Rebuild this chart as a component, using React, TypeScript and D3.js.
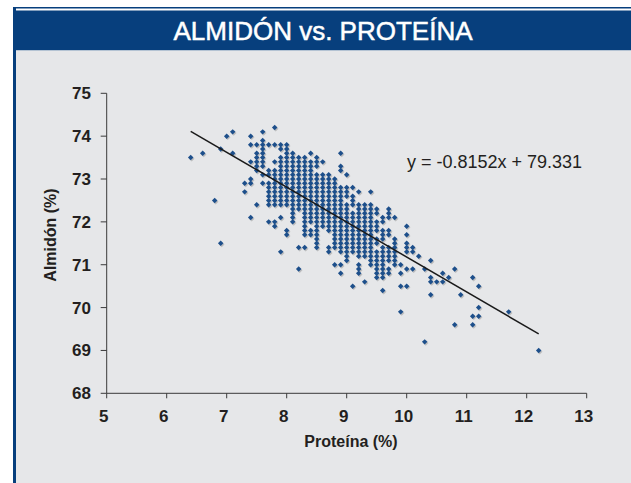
import React from "react";
import * as d3 from "d3";

// ---- data ----
const titleText = "ALMIDÓN vs. PROTEÍNA";
const xLabel = "Proteína (%)";
const yLabel = "Almidón (%)";
const xTicks = [5, 6, 7, 8, 9, 10, 11, 12, 13];
const yTicks = [68, 69, 70, 71, 72, 73, 74, 75];
const slope = -0.8152;
const intercept = 79.331;
const trendRange = [6.4, 12.2];
const equationText = "y = -0.8152x + 79.331";

// each row: almidón value, list of proteína values at that almidón
const rowAlmidon = [
  74.2, 74.1, 74.0, 73.9, 73.8, 73.7, 73.6, 73.5, 73.4, 73.3, 73.2, 73.1, 73.0,
  72.9, 72.8, 72.7, 72.6, 72.5, 72.4, 72.3, 72.2, 72.1, 72.0, 71.9, 71.8, 71.7,
  71.6, 71.5, 71.4, 71.3, 71.2, 71.1, 71.0, 70.9, 70.8, 70.7, 70.6, 70.5, 70.4,
  70.3, 70.0, 69.9, 69.8, 69.6, 69.2, 69.0,
];
const rowProteina = [
  [7.8],
  [7.1, 7.6],
  [7.0, 7.4],
  [7.6],
  [7.4, 7.5, 7.6, 7.7, 7.8, 7.9, 8.0],
  [6.9, 7.6, 7.9, 8.0],
  [6.6, 7.1, 7.5, 7.6, 8.0, 8.1, 8.4, 8.9],
  [6.4, 7.5, 7.6, 7.9, 8.0, 8.1, 8.2, 8.3, 8.5],
  [7.4, 7.5, 7.6, 7.8, 7.9, 8.0, 8.1, 8.2, 8.3, 8.4, 8.5, 8.6],
  [7.5, 7.6, 7.9, 8.0, 8.1, 8.2, 8.3, 8.4, 8.5, 8.9],
  [7.5, 7.7, 7.8, 7.9, 8.0, 8.1, 8.2, 8.3, 8.4, 8.9],
  [7.6, 7.7, 7.8, 7.9, 8.0, 8.1, 8.2, 8.3, 8.4, 8.5, 8.6, 8.7, 9.0],
  [7.4, 7.8, 7.9, 8.0, 8.1, 8.2, 8.3, 8.4, 8.5, 8.6, 8.7, 8.8],
  [7.3, 7.4, 7.6, 7.7, 7.8, 7.9, 8.0, 8.1, 8.2, 8.3, 8.4, 8.5, 8.6, 8.7, 8.8],
  [7.7, 7.8, 7.9, 8.0, 8.1, 8.2, 8.3, 8.4, 8.5, 8.6, 8.7, 8.8, 8.9, 9.0, 9.1],
  [7.3, 7.7, 7.8, 7.9, 8.0, 8.1, 8.2, 8.3, 8.4, 8.5, 8.6, 8.7, 8.8, 8.9, 9.0, 9.2, 9.4],
  [7.7, 7.8, 7.9, 8.0, 8.1, 8.2, 8.3, 8.4, 8.5, 8.6, 8.7, 8.8, 8.9, 9.0, 9.1],
  [6.8, 7.7, 7.8, 7.9, 8.0, 8.1, 8.2, 8.3, 8.4, 8.5, 8.6, 8.7, 8.8, 8.9, 9.1],
  [7.5, 7.7, 7.8, 7.9, 8.0, 8.1, 8.2, 8.3, 8.4, 8.5, 8.6, 8.7, 8.8, 8.9, 9.0, 9.1, 9.2, 9.3, 9.4],
  [8.1, 8.2, 8.3, 8.4, 8.5, 8.6, 8.7, 8.8, 8.9, 9.0, 9.2, 9.3, 9.4, 9.5, 9.7],
  [8.1, 8.3, 8.4, 8.5, 8.6, 8.7, 8.8, 8.9, 9.0, 9.1, 9.2, 9.3, 9.4, 9.5, 9.7],
  [7.4, 7.9, 8.1, 8.3, 8.4, 8.5, 8.6, 8.7, 8.8, 8.9, 9.0, 9.1, 9.2, 9.3, 9.4, 9.6, 9.7, 9.8],
  [7.7, 7.8, 8.1, 8.3, 8.4, 8.5, 8.6, 8.7, 8.8, 8.9, 9.0, 9.1, 9.2, 9.3, 9.4, 9.5, 9.6],
  [7.8, 8.3, 8.5, 8.6, 8.7, 8.8, 8.9, 9.0, 9.1, 9.2, 9.3, 9.4, 9.5, 10.0],
  [8.0, 8.3, 8.4, 8.5, 8.7, 8.8, 8.9, 9.0, 9.1, 9.2, 9.3, 9.4, 9.5, 9.6, 9.7],
  [8.0, 8.3, 8.4, 8.5, 8.8, 8.9, 9.0, 9.1, 9.2, 9.3, 9.4, 9.6, 9.7, 10.0],
  [8.5, 8.8, 8.9, 9.0, 9.1, 9.2, 9.3, 9.4, 9.5, 9.6, 9.8],
  [6.9, 8.5, 8.8, 8.9, 9.0, 9.1, 9.2, 9.3, 9.4, 9.5, 9.8, 10.0],
  [8.2, 8.3, 8.5, 8.7, 8.8, 8.9, 9.0, 9.1, 9.2, 9.3, 9.4, 9.6, 9.7, 9.8, 10.0, 10.1],
  [7.9, 8.7, 8.9, 9.0, 9.1, 9.2, 9.3, 9.4, 9.5, 9.6, 9.7, 9.8, 10.0, 10.1],
  [9.0, 9.2, 9.3, 9.4, 9.5, 9.6, 9.7, 9.8, 10.2],
  [9.0, 9.4, 9.5, 9.6, 9.7, 9.8, 10.4],
  [8.8, 8.9, 9.2, 9.4, 9.5, 9.6, 9.8, 9.9],
  [8.2, 9.2, 9.5, 9.6, 9.7, 10.0, 10.1, 10.3, 10.8],
  [8.9, 9.2, 9.5, 9.6, 9.7, 9.9, 10.6],
  [9.5, 9.6, 10.4, 10.7, 11.1],
  [9.3, 10.4, 10.5, 10.6],
  [9.1, 9.9, 10.0, 11.2],
  [9.6],
  [10.4, 10.9],
  [11.2],
  [9.9, 11.7],
  [11.1, 11.2],
  [10.8, 11.1],
  [10.3],
  [12.2],
];

const W = 631;
const H = 483;
const BLUE = "#073f7d";
const GRAY = "#e6e7e9";
const MARK = "#1d4f8b";

export default function App() {
  const x = d3.scaleLinear().domain([5, 13]).range([106.7, 586.7]);
  const y = d3.scaleLinear().domain([68, 75]).range([393.3, 93.3]);

  const points: { px: number; py: number }[] = [];
  rowAlmidon.forEach((a, i) => {
    rowProteina[i].forEach((p) => points.push({ px: x(p), py: y(a) }));
  });

  const marker = d3.symbol().type(d3.symbolSquare).size(15)() as string;
  const trend = d3
    .line<number>()
    .x((v) => x(v))
    .y((v) => y(slope * v + intercept))(trendRange) as string;

  const axisColor = "#3a3a3a";
  const tickFont = "'Liberation Sans', Arial, sans-serif";

  return (
    <div style={{ position: "absolute", left: 0, top: 0 }}>
      <svg width={W} height={H} style={{ display: "block" }}>
        <rect x={0} y={0} width={W} height={H} fill="#ffffff" />
        <rect x={13} y={7} width={W - 13} height={1.5} fill={BLUE} />
        <rect x={13} y={10.5} width={W - 13} height={40} fill={BLUE} />
        <rect x={16} y={50.5} width={W - 16} height={H - 50.5} fill={GRAY} />
        <rect x={13} y={7} width={3} height={H - 7} fill={BLUE} />
        <text
          x={323}
          y={40}
          textAnchor="middle"
          fill="#ffffff"
          fontFamily="'Liberation Sans Narrow', 'Arial Narrow', sans-serif"
          fontSize={26}
          stroke="#ffffff"
          strokeWidth={0.5}
        >
          {titleText}
        </text>

        {/* axes */}
        <line x1={x(5)} x2={x(5)} y1={y(75)} y2={y(68)} stroke={axisColor} strokeWidth={1} />
        <line x1={x(5)} x2={x(13)} y1={y(68)} y2={y(68)} stroke={axisColor} strokeWidth={1} />
        {yTicks.map((t) => (
          <g key={"y" + t}>
            <line x1={x(5) - 6} x2={x(5)} y1={y(t)} y2={y(t)} stroke={axisColor} />
            <text
              x={91}
              y={y(t) + 6}
              textAnchor="end"
              fontFamily={tickFont}
              fontWeight="bold"
              fontSize={17}
              fill="#231f20"
            >
              {t}
            </text>
          </g>
        ))}
        {xTicks.map((t) => (
          <g key={"x" + t}>
            <line x1={x(t)} x2={x(t)} y1={y(68)} y2={y(68) + 5} stroke={axisColor} />
            <text
              x={x(t) - 3}
              y={422}
              textAnchor="middle"
              fontFamily={tickFont}
              fontWeight="bold"
              fontSize={17}
              fill="#231f20"
            >
              {t}
            </text>
          </g>
        ))}
        <text
          x={351}
          y={447}
          textAnchor="middle"
          fontFamily={tickFont}
          fontWeight="bold"
          fontSize={16}
          fill="#231f20"
        >
          {xLabel}
        </text>
        <text
          transform={`translate(56,235) rotate(-90)`}
          textAnchor="middle"
          fontFamily={tickFont}
          fontWeight="bold"
          fontSize={16}
          fill="#231f20"
        >
          {yLabel}
        </text>

        {/* points: shadow then marker */}
        <g>
          {points.map((d, i) => (
            <path
              key={"s" + i}
              d={marker}
              transform={`translate(${d.px + 1},${d.py + 1.2}) rotate(45)`}
              fill="rgba(60,60,60,0.25)"
            />
          ))}
          {points.map((d, i) => (
            <path
              key={"p" + i}
              d={marker}
              transform={`translate(${d.px},${d.py}) rotate(45)`}
              fill={MARK}
            />
          ))}
        </g>

        <path d={trend} stroke="#1a1a1a" strokeWidth={1.5} fill="none" />
        <text
          x={407}
          y={168}
          fontFamily={tickFont}
          fontSize={18}
          fill="#231f20"
        >
          {equationText}
        </text>
      </svg>
    </div>
  );
}
